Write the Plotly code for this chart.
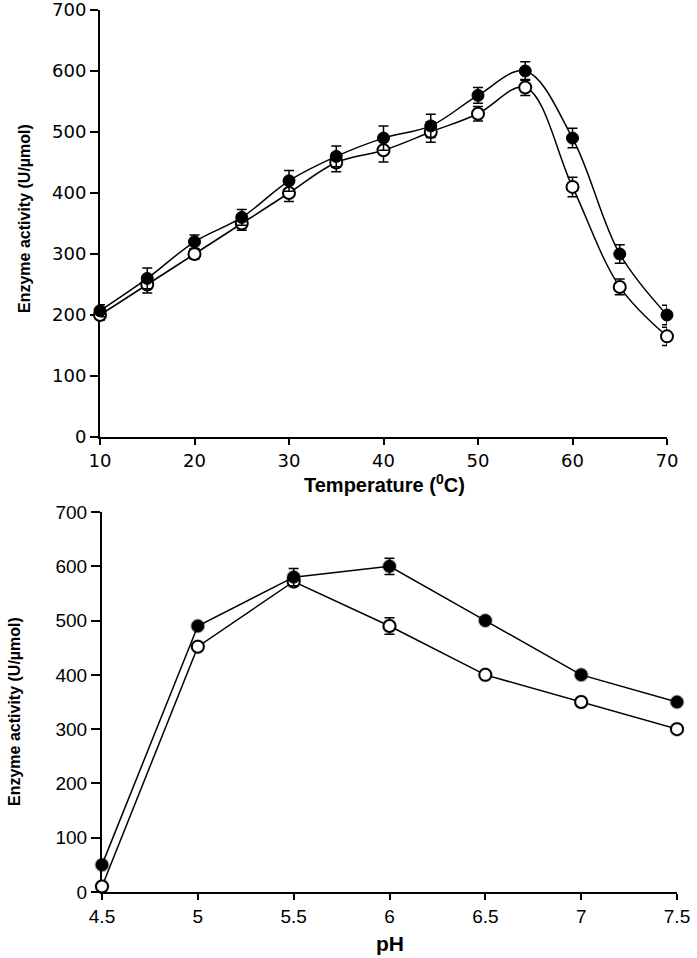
import plotly.graph_objects as go

# ---- Data: temperature panel ----
temperature = [10, 15, 20, 25, 30, 35, 40, 45, 50, 55, 60, 65, 70]
temp_filled = [207, 260, 320, 360, 420, 460, 490, 510, 560, 600, 490, 300, 200]
temp_filled_err = [10, 17, 11, 13, 17, 17, 20, 19, 13, 15, 16, 15, 16]
temp_open = [200, 250, 300, 350, 400, 450, 470, 500, 530, 573, 410, 246, 165]
temp_open_err = [8, 14, 8, 11, 14, 15, 19, 17, 12, 13, 16, 13, 15]

# ---- Data: pH panel ----
ph = [4.5, 5, 5.5, 6, 6.5, 7, 7.5]
ph_filled = [50, 490, 580, 600, 500, 400, 350]
ph_filled_err = [5, 6, 16, 15, 6, 6, 6]
ph_open = [10, 452, 572, 490, 400, 350, 300]
ph_open_err = [6, 6, 8, 15, 6, 6, 6]

W, H = 697, 958

def px_x(p):
    return p / W

def px_y(p):
    return 1 - p / H

fig = go.Figure()

# top panel
fig.add_trace(go.Scatter(
    x=temperature, y=temp_open, mode="lines+markers", line=dict(color="black", width=1.5, shape="spline"),
    marker=dict(symbol="circle", size=12, color="white", line=dict(color="black", width=2)),
    error_y=dict(type="data", array=temp_open_err, color="black", thickness=1.5, width=5),
    xaxis="x", yaxis="y", cliponaxis=False, showlegend=False))
fig.add_trace(go.Scatter(
    x=temperature, y=temp_filled, mode="lines+markers", line=dict(color="black", width=1.5, shape="spline"),
    marker=dict(symbol="circle", size=12, color="black", line=dict(color="black", width=1)),
    error_y=dict(type="data", array=temp_filled_err, color="black", thickness=1.5, width=5),
    xaxis="x", yaxis="y", cliponaxis=False, showlegend=False))

# bottom panel: soft shadows
for yy in (ph_open, ph_filled):
    fig.add_trace(go.Scatter(
        x=ph, y=yy, mode="markers",
        marker=dict(symbol="circle", size=15, color="rgba(0,0,0,0.25)", line=dict(width=0)),
        xaxis="x2", yaxis="y2", cliponaxis=False, showlegend=False, hoverinfo="skip"))

fig.add_trace(go.Scatter(
    x=ph, y=ph_open, mode="lines+markers", line=dict(color="black", width=1.5),
    marker=dict(symbol="circle", size=12, color="white", line=dict(color="black", width=2)),
    error_y=dict(type="data", array=ph_open_err, color="black", thickness=1.5, width=5),
    xaxis="x2", yaxis="y2", cliponaxis=False, showlegend=False))
fig.add_trace(go.Scatter(
    x=ph, y=ph_filled, mode="lines+markers", line=dict(color="black", width=1.5),
    marker=dict(symbol="circle", size=12, color="black", line=dict(color="black", width=1)),
    error_y=dict(type="data", array=ph_filled_err, color="black", thickness=1.5, width=5),
    xaxis="x2", yaxis="y2", cliponaxis=False, showlegend=False))

axis_common = dict(showline=True, linecolor="black", linewidth=2, ticks="outside", tickcolor="black",
                   tickwidth=2, showgrid=False, zeroline=False, layer="below traces", automargin=False,
                   ticklabeloverflow="allow")

top_font = dict(family="DejaVu Sans", size=18, color="black")
bot_font = dict(family="Liberation Sans, Arial", size=19, color="black")

fig.update_layout(
    template="none",
    width=W, height=H,
    margin=dict(l=0, r=0, t=0, b=0, pad=0),
    paper_bgcolor="white", plot_bgcolor="white",
    xaxis=dict(domain=[px_x(100), px_x(667)], range=[10, 70], tickvals=[10, 20, 30, 40, 50, 60, 70],
               ticklen=6, tickfont=top_font, anchor="y", **axis_common),
    yaxis=dict(domain=[px_y(437), px_y(10)], range=[0, 700], tickvals=list(range(0, 701, 100)),
               ticklen=8, tickfont=top_font, anchor="x", **axis_common),
    xaxis2=dict(domain=[px_x(102), px_x(677)], range=[4.5, 7.5], tickvals=[4.5, 5, 5.5, 6, 6.5, 7, 7.5],
                ticktext=["4.5", "5", "5.5", "6", "6.5", "7", "7.5"],
                ticklen=6, tickfont=bot_font, anchor="y2", **axis_common),
    yaxis2=dict(domain=[px_y(892), px_y(512)], range=[0, 700], tickvals=list(range(0, 701, 100)),
                ticklen=9, tickfont=bot_font, anchor="x2", **axis_common),
)

title_font = dict(family="Liberation Sans, Arial", color="black")
annotations = [
    dict(text="<b>Enzyme activity (U/µmol)</b>", x=px_x(25), y=px_y(219), textangle=-90,
         font=dict(size=16, **title_font)),
    dict(text="<b>Temperature (<sup>0</sup>C)</b>", x=px_x(384), y=px_y(484),
         font=dict(size=20, **title_font)),
    dict(text="<b>Enzyme activity (U/µmol)</b>", x=px_x(14), y=px_y(712), textangle=-90,
         font=dict(size=16, **title_font)),
    dict(text="<b>pH</b>", x=px_x(390), y=px_y(943),
         font=dict(size=21, **title_font)),
]
for a in annotations:
    a.update(xref="paper", yref="paper", showarrow=False, xanchor="center", yanchor="middle")
fig.update_layout(annotations=annotations)

fig.write_html(
    "out.html",
    config={"displayModeBar": False},
    post_script="document.body.style.margin='0';document.body.style.overflow='hidden';",
)
